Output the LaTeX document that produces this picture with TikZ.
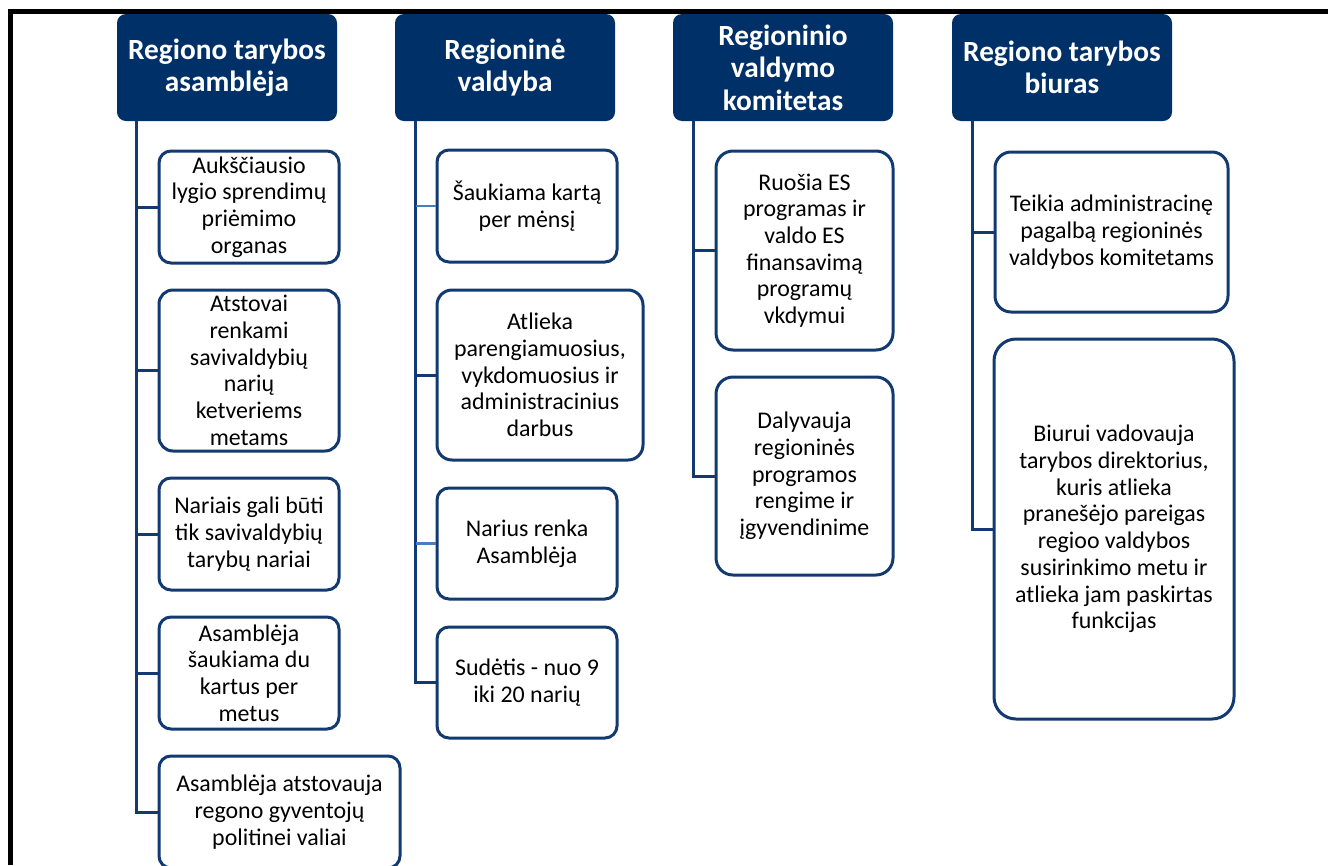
\documentclass[tikz,border=0pt]{standalone}
\usepackage{fontspec}
\setmainfont{Carlito}
\definecolor{navy}{RGB}{0,48,104}
\definecolor{edge}{RGB}{18,57,112}
\definecolor{lightedge}{RGB}{74,126,187}
\tikzset{
  hdr/.style={fill=navy, draw=none, rounded corners=9pt, inner sep=0pt,
    text=white, align=center, font=\fontsize{29.3}{32.5}\selectfont\bfseries,
    minimum width=220pt, minimum height=107pt},
  cbox/.style={draw=edge, fill=white, line width=3pt, inner sep=0pt,
    align=center, text=black, font=\fontsize{23.9}{26.7}\selectfont},
  conn/.style={draw=edge, line width=3pt},
  lconn/.style={draw=lightedge, line width=2.2pt},
}
\begin{document}
\begin{tikzpicture}[x=1pt, y=-1pt]
\useasboundingbox (0,0) rectangle (1328,865);
\fill[white] (0,0) rectangle (1328,865);
% outer frame (top and left edges)
\draw[line width=5pt] (10.5,865) -- (10.5,11.5) -- (1328,11.5);

% headers
\node[hdr] (h1) at (227,67.5) {Regiono tarybos\\asamblėja};
\node[hdr] (h2) at (505,67.5) {Regioninė\\valdyba};
\node[hdr] (h3) at (783,67.5) {Regioninio\\valdymo\\komitetas};
\node[hdr] (h4) at (1062,67.5) {Regiono tarybos\\biuras};

% trunks
\coordinate (t1) at ([xshift=20pt]h1.south west);
\coordinate (t2) at ([xshift=21pt]h2.south west);
\coordinate (t3) at ([xshift=21pt]h3.south west);
\coordinate (t4) at ([xshift=21pt]h4.south west);

% column 1
\node[cbox, minimum width=180pt, minimum height=112pt, rounded corners=12pt] (c11) at (249,207) {Aukščiausio\\lygio sprendimų\\priėmimo\\organas};
\node[cbox, minimum width=180pt, minimum height=161pt, rounded corners=14pt] (c12) at (249,370.5) {Atstovai\\renkami\\savivaldybių\\narių\\ketveriems\\metams};
\node[cbox, minimum width=180pt, minimum height=112pt, rounded corners=12pt] (c13) at (249,534) {Nariais gali būti\\tik savivaldybių\\tarybų nariai};
\node[cbox, minimum width=180pt, minimum height=112pt, rounded corners=12pt] (c14) at (249,673) {Asamblėja\\šaukiama du\\kartus per\\metus};
\node[cbox, minimum width=241pt, minimum height=112pt, rounded corners=12pt] (c15) at (279.5,812) {Asamblėja atstovauja\\regono gyventojų\\politinei valiai};

% column 2
\node[cbox, minimum width=180pt, minimum height=112pt, rounded corners=12pt] (c21) at (527,206) {Šaukiama kartą\\per mėnsį};
\node[cbox, minimum width=206pt, minimum height=170pt, rounded corners=15pt] (c22) at (540,375) {Atlieka\\parengiamuosius,\\vykdomuosius ir\\administracinius\\darbus};
\node[cbox, minimum width=180pt, minimum height=111pt, rounded corners=12pt] (c23) at (527,543.5) {Narius renka\\Asamblėja};
\node[cbox, minimum width=180pt, minimum height=111pt, rounded corners=12pt] (c24) at (527,682.5) {Sudėtis - nuo 9\\iki 20 narių};

% column 3
\node[cbox, minimum width=177pt, minimum height=199pt, rounded corners=17pt] (c31) at (804.5,250.5) {Ruošia ES\\programas ir\\valdo ES\\finansavimą\\programų\\vkdymui};
\node[cbox, minimum width=177pt, minimum height=198pt, rounded corners=17pt] (c32) at (804.5,476) {Dalyvauja\\regioninės\\programos\\rengime ir\\įgyvendinime};

% column 4
\node[cbox, minimum width=233pt, minimum height=160pt, rounded corners=16pt] (c41) at (1111.5,232) {Teikia administracinę\\pagalbą regioninės\\valdybos komitetams};
\node[cbox, minimum width=240pt, minimum height=380pt, rounded corners=22pt] (c42) at (1114,529) {Biurui vadovauja\\tarybos direktorius,\\kuris atlieka\\pranešėjo pareigas\\regioo valdybos\\susirinkimo metu ir\\atlieka jam paskirtas\\funkcijas};

% connectors: trunk under each header, one branch per box
\draw[conn] (t1) |- (c15.west);
\foreach \c in {c11,c12,c13,c14} \draw[conn] (\c.west) -- (\c.west -| t1);

\draw[conn] (t2) |- (c24.west);
\draw[lconn] (c21.west) -- (c21.west -| t2);
\draw[conn] (c22.west) -- (c22.west -| t2);
\draw[lconn] (c23.west) -- (c23.west -| t2);

\draw[conn] (t3) |- (c32.west);
\draw[conn] (c31.west) -- (c31.west -| t3);

\draw[conn] (t4) |- (c42.west);
\draw[conn] (c41.west) -- (c41.west -| t4);
\end{tikzpicture}
\end{document}
